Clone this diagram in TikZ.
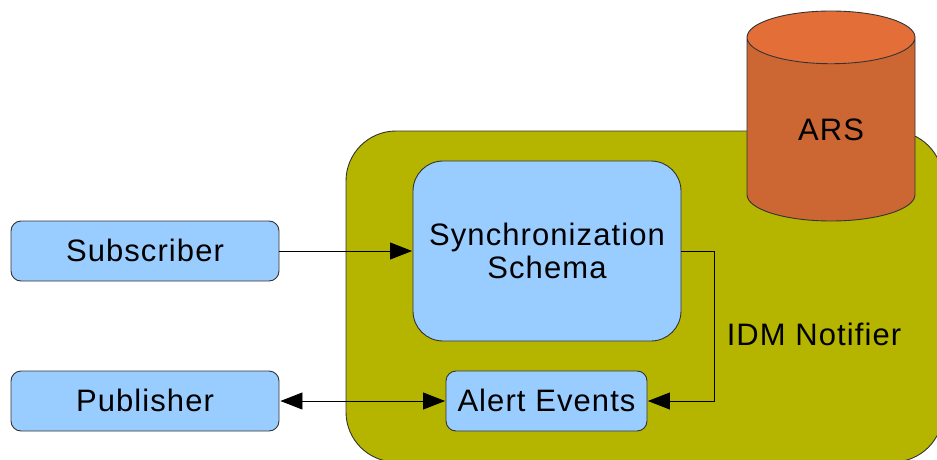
\documentclass[tikz,border=0pt]{standalone}
\usepackage{fontspec}
\setmainfont[LetterSpace=3.5]{Liberation Sans}
\usetikzlibrary{arrows.meta,shapes.geometric}
\definecolor{olivebg}{HTML}{B5B500}
\definecolor{paleblue}{HTML}{99CCFF}
\definecolor{rustbody}{HTML}{CC6633}
\definecolor{rusttop}{HTML}{E36E37}
\tikzstyle{base}=[draw=black!80,line width=0.9pt,inner sep=0pt,font=\fontsize{31}{33}\selectfont,align=center]
\tikzstyle{smallbox}=[base,rounded corners=10pt,fill=paleblue,minimum height=60pt,text depth=2pt]
\tikzstyle{edge}=[draw,line width=0.8pt,black]
\tikzstyle{tip}=[-{Triangle[length=22pt,width=17pt]},shorten >=0.5pt]
\tikzstyle{tiptwo}=[{Triangle[length=22pt,width=17pt]}-{Triangle[length=22pt,width=17pt]},shorten >=0.5pt,shorten <=1pt]

\begin{document}
\begin{tikzpicture}[x=1pt,y=-1pt]
    \useasboundingbox (0,0) rectangle (937,460);

    \node[base,fill=olivebg,rounded corners=50pt,minimum width=597pt,minimum height=331pt] (idm) at (644.5,296.5) {};

    \node[base,shape=cylinder,shape border rotate=90,aspect=0.8,cylinder uses custom fill,
          cylinder body fill=rustbody,cylinder end fill=rusttop,minimum width=168pt,minimum height=210pt,anchor=shape center] (ars) at (831,116) {ARS};

    \foreach \x/\y/\w/\name/\txt in {145/251/268/sub/Subscriber, 145/401/268/pub/Publisher, 546.5/401/201/alert/Alert Events}
        \node[smallbox,minimum width=\w pt] (\name) at (\x,\y) {\txt};

    \node[base,rounded corners=30pt,fill=paleblue,minimum width=268pt,minimum height=180pt] (sync) at (547,251) {Synchronization\\Schema};

    \node[font=\fontsize{31}{33}\selectfont,inner sep=0pt] (idmlabel) at (814,334) {IDM Notifier};

    \coordinate (bend1) at (714,251);
    \coordinate (bend2) at (714,401);

    \path[edge,tip] (sub.east) -- (sync.west);
    \path[edge,tiptwo] (pub.east) -- (alert.west);
    \path[edge,tip] (sync.east) -- (bend1) -- (bend2) -- (alert.east);
\end{tikzpicture}
\end{document}
